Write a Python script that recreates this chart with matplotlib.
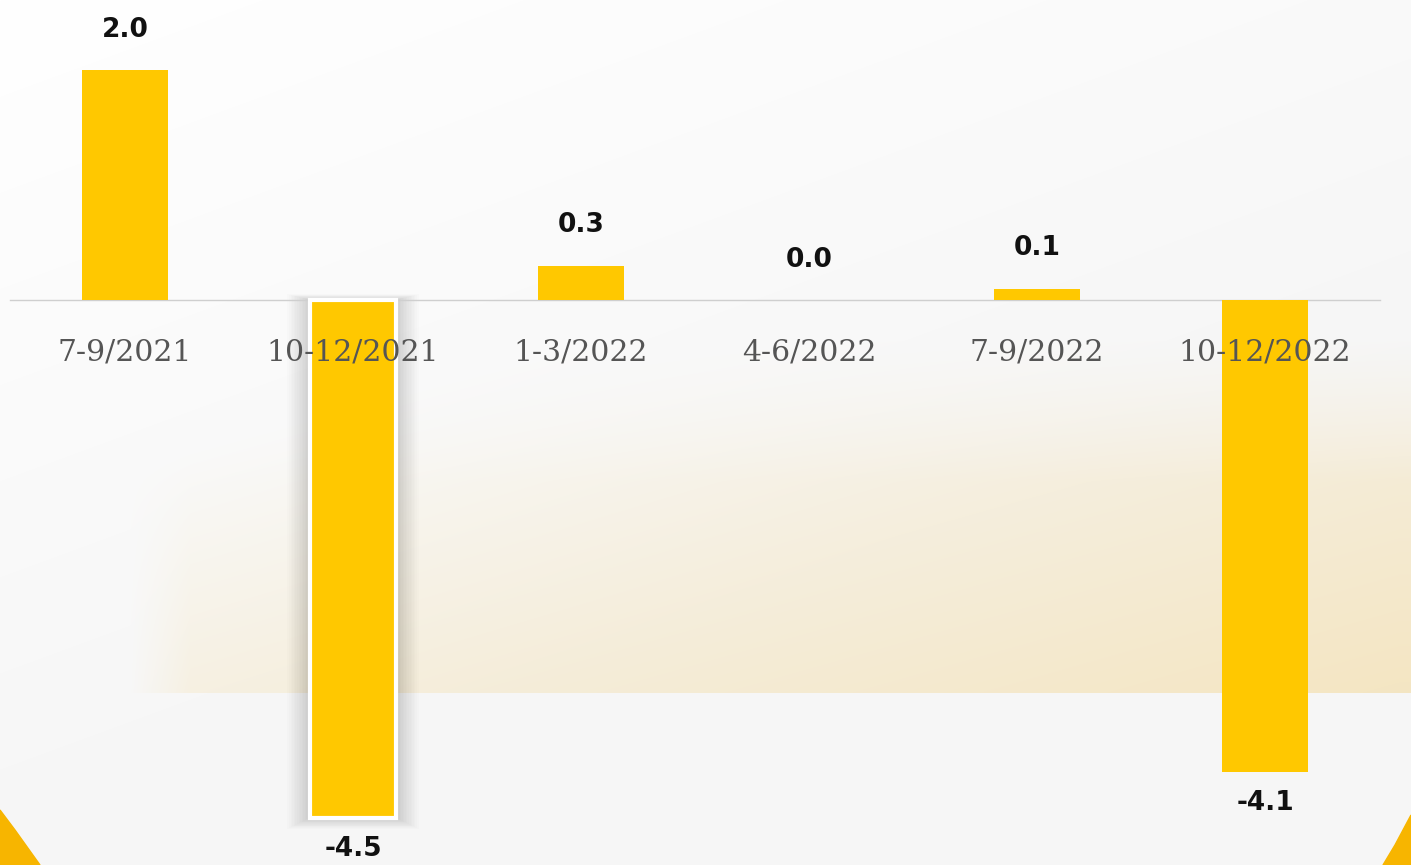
import matplotlib.pyplot as plt
import numpy as np
from matplotlib.patches import Rectangle, Polygon

quarters = ["7-9/2021", "10-12/2021", "1-3/2022", "4-6/2022", "7-9/2022", "10-12/2022"]
values = [2.0, -4.5, 0.3, 0.0, 0.1, -4.1]
highlight = 1  # bar with white frame and shadow

W, H = 1411, 865
bar_color = "#ffc800"

fig = plt.figure(figsize=(W / 100, H / 100), dpi=100)

# background: light card with a soft yellow band on the lower right
bg = fig.add_axes([0, 0, 1, 1])
bg.set_axis_off()
yy, xx = np.mgrid[0:H, 0:W].astype(float)
base = 246 + 9 * np.clip(1 - (xx / W * 0.6 + yy / H), 0, 1)
img = np.stack([base, base, base], axis=-1)
band = (yy > 340) & (yy < 693)
wx = np.clip((xx - 150) / 1250, 0, 1)
wy = np.clip((yy - 340) / 353, 0, 1)
left_edge = np.clip((xx - 130) / 60, 0, 1)
top_fade = np.clip(wy * 2.5, 0, 1)
a = np.where(band, 0.34 * np.clip(0.6 * wx + 0.6 * wy - 0.2, 0, 1) * left_edge * top_fade, 0)
tint = np.array([240, 198, 95], float)
img = img * (1 - a[..., None]) + tint * a[..., None]
bg.imshow(img.astype(np.uint8), extent=[0, W, H, 0], aspect="auto")
bg.set_xlim(0, W)
bg.set_ylim(H, 0)
bg.add_patch(Polygon([[0, 810], [15, 830], [40, 865], [0, 865]], color="#f7b500"))
bg.add_patch(Polygon([[W, 815], [1395, 845], [1383, 865], [W, 865]], color="#f7b500"))

# chart axes spanning the whole figure: 228 px per category, 115 px per unit
ax = fig.add_axes([0, 0, 1, 1])
ax.set_axis_off()
ax.patch.set_alpha(0)
ax.set_xlim(-125 / 228, (W - 125) / 228)
ax.set_ylim(-(H - 300) / 115, 300 / 115)

x = np.arange(len(values))
width = 0.38

# soft shadow behind the framed bar
for k in range(14):
    pad = 0.007 * (k + 1)
    ax.add_patch(Rectangle((x[highlight] - width / 2 - pad, values[highlight] - pad),
                           width + 2 * pad, -values[highlight] + pad * 1.5,
                           color="#000000", alpha=0.013, lw=0, zorder=1))

bars = ax.bar(x, values, width=width, color=bar_color, zorder=3)
bars[highlight].set_edgecolor("white")
bars[highlight].set_linewidth(3)

ax.plot([10 / 228 - 125 / 228, 1380 / 228 - 125 / 228], [0, 0], color="#cfcfcf", lw=1, zorder=2)

for xi, lab in zip(x, quarters):
    ax.annotate(lab, xy=(xi, 0), xytext=(0, -38), textcoords="offset points",
                ha="center", va="center", fontsize=21.5, color="#555555",
                family="DejaVu Serif", zorder=4)

for xi, v in zip(x, values):
    off = 29 if v >= 0 else -23
    ax.annotate("{:.1f}".format(v), xy=(xi, v), xytext=(0, off), textcoords="offset points",
                ha="center", va="center", fontsize=19, fontweight="bold",
                color="#111111", zorder=5)

fig.savefig("out.png", dpi=100)
